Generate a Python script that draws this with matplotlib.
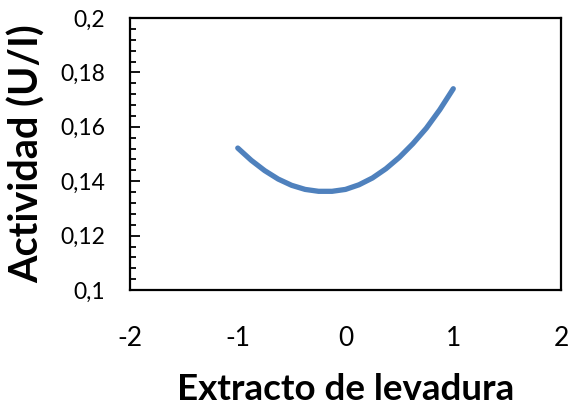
import matplotlib.pyplot as plt
from matplotlib.ticker import MultipleLocator, FuncFormatter

extracto = [-1.0, -0.875, -0.75, -0.625, -0.5, -0.375, -0.25, -0.125, 0.0,
            0.125, 0.25, 0.375, 0.5, 0.625, 0.75, 0.875, 1.0]
actividad = [0.1522, 0.1477, 0.1439, 0.1408, 0.1385, 0.1370, 0.1363, 0.1363, 0.1370,
             0.1387, 0.1412, 0.1446, 0.1488, 0.1538, 0.1595, 0.1663, 0.1740]

plt.rcParams['font.family'] = ['Lato', 'DejaVu Sans']
plt.rcParams['axes.unicode_minus'] = False

fig = plt.figure(figsize=(5.69, 4.18), dpi=100)
ax = fig.add_axes([0.2285, 0.306, 0.7575, 0.651])

ax.plot(extracto, actividad, color='#4f81bd', linewidth=3.8, solid_capstyle='round')

ax.set_xlim(-2, 2)
ax.set_ylim(0.1, 0.2)
ax.xaxis.set_major_locator(MultipleLocator(1))
ax.yaxis.set_major_locator(MultipleLocator(0.02))
ax.yaxis.set_minor_locator(MultipleLocator(0.004))
ax.yaxis.set_major_formatter(FuncFormatter(lambda v, p: ('%g' % round(v, 3)).replace('.', ',')))

ax.tick_params(axis='x', length=0, pad=26, labelsize=19)
ax.tick_params(axis='y', which='major', direction='in', length=7, width=1.3, pad=18, labelsize=16.5)
ax.tick_params(axis='y', which='minor', direction='in', length=4, width=1.3)
for s in ax.spines.values():
    s.set_linewidth(1.6)

ax.set_xlabel('Extracto de levadura', fontsize=26.5, fontweight='bold', labelpad=16)
ax.set_ylabel('Actividad (U/I)', fontsize=28.5, fontweight='bold', labelpad=10)

plt.savefig('out.png')
